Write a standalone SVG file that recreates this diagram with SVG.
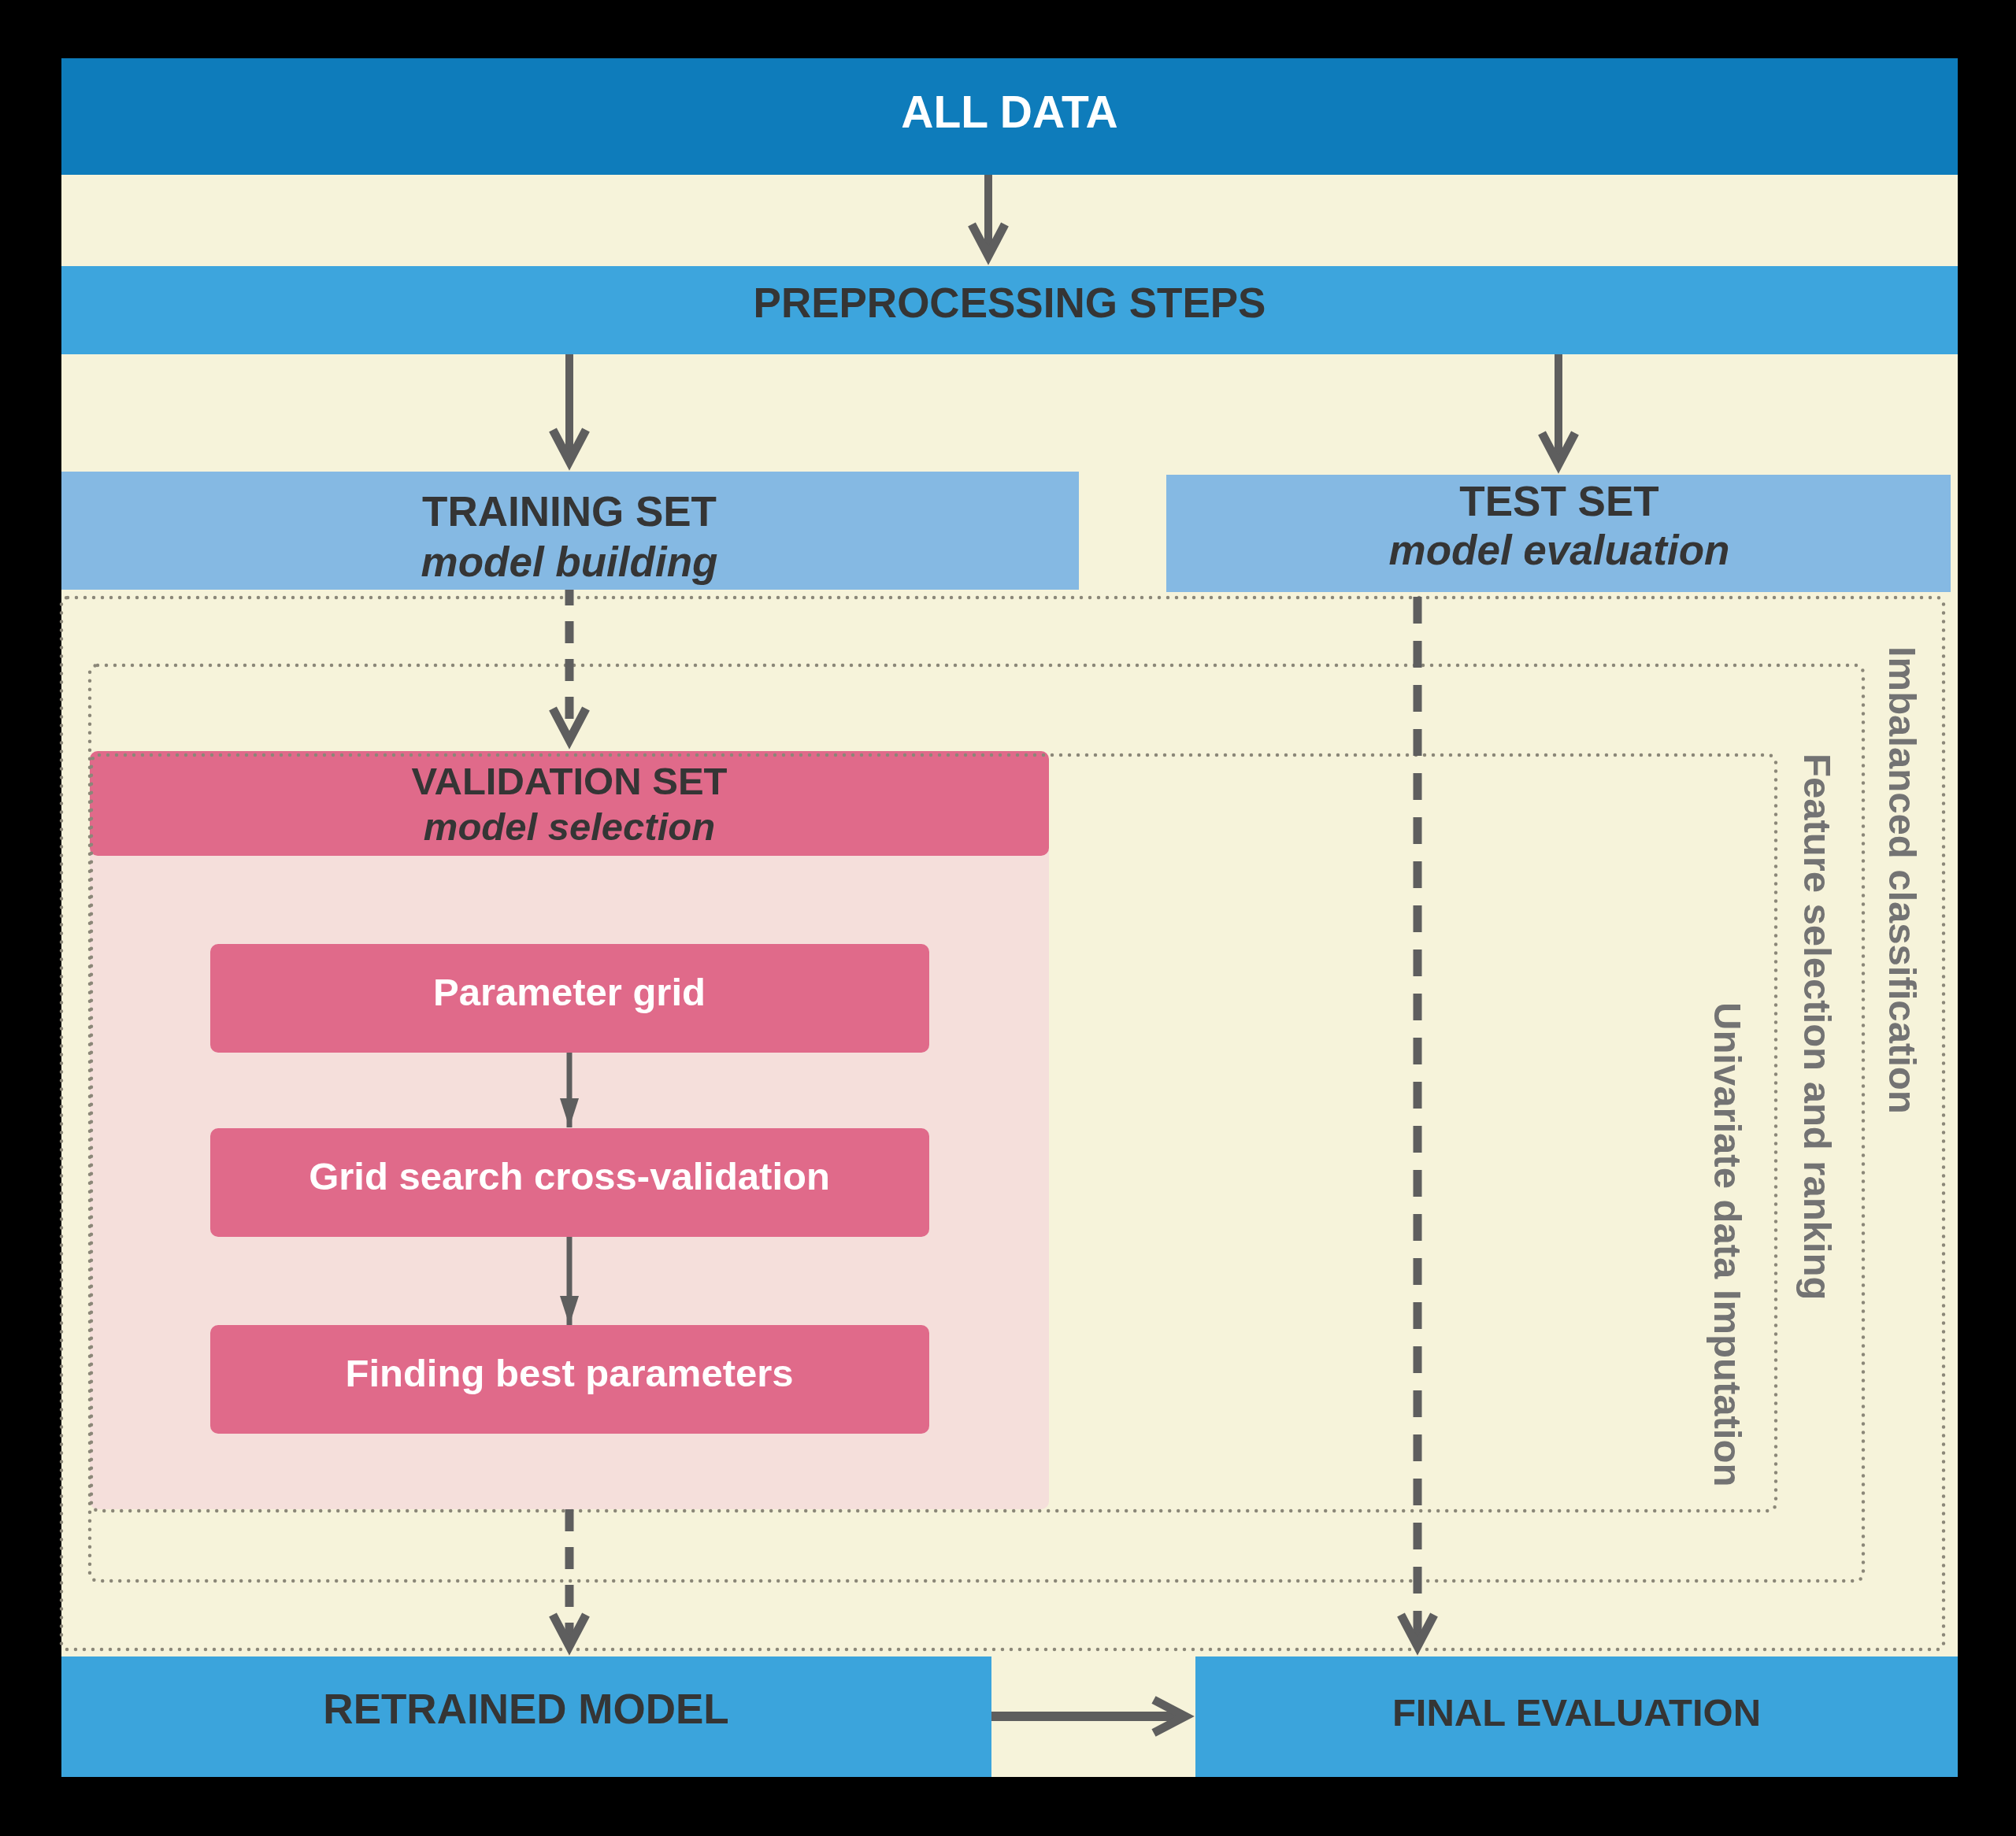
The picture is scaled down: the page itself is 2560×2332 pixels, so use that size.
<svg xmlns="http://www.w3.org/2000/svg" width="2560" height="2332" viewBox="0 0 2560 2332">
<style>
.t{font-family:"Liberation Sans",Arial,sans-serif;font-weight:bold;text-anchor:middle}
.dark{fill:#353535}
.white{fill:#ffffff}
.it{font-style:italic}
.side{font-family:"Liberation Sans",Arial,sans-serif;font-weight:bold;font-size:49px;fill:#737373}
.dot{fill:none;stroke:#8b8778;stroke-width:4.5;stroke-linecap:round;stroke-dasharray:0 11}
.conn{fill:none;stroke:#5e5e5e;stroke-width:10;marker-end:url(#chev)}
.dash{stroke-width:11;stroke-dasharray:28 20}
.small{fill:none;stroke:#5e5e5e;stroke-width:7;marker-end:url(#tri)}
</style>
<defs>
<marker id="chev" markerUnits="userSpaceOnUse" markerWidth="80" markerHeight="80" viewBox="-60 -40 80 80" refX="0" refY="0" orient="auto" overflow="visible">
<path d="M -40 -21 L 0 0 L -40 21" fill="none" stroke="#5e5e5e" stroke-width="11" stroke-miterlimit="10" stroke-dasharray="none"/>
</marker>
<marker id="tri" markerUnits="userSpaceOnUse" markerWidth="60" markerHeight="60" viewBox="-50 -30 60 60" refX="0" refY="0" orient="auto" overflow="visible">
<path d="M -37 -12 L 0 0 L -37 12 Z" fill="#5e5e5e"/>
</marker>
</defs>
<rect x="0" y="0" width="2560" height="2332" fill="#000000"/>
<rect x="78" y="74" width="2408" height="2183" fill="#f6f3da"/>

<g id="all-data">
<rect x="78" y="74" width="2408" height="148" fill="#0e7cbb"/>
<text class="t white" x="1282" y="162" font-size="57">ALL DATA</text>
</g>
<g id="preprocessing">
<rect x="78" y="338" width="2408" height="112" fill="#3da5dd"/>
<text class="t dark" x="1282" y="403" font-size="53">PREPROCESSING STEPS</text>
</g>
<g id="training-set">
<rect x="78" y="599" width="1292" height="150" fill="#85b9e3"/>
<text class="t dark" x="723" y="668" font-size="53">TRAINING SET</text>
<text class="t dark it" x="723" y="732" font-size="53">model building</text>
</g>
<g id="test-set">
<rect x="1481" y="603" width="996" height="149" fill="#85b9e3"/>
<text class="t dark" x="1980" y="655" font-size="53">TEST SET</text>
<text class="t dark it" x="1980" y="717" font-size="53">model evaluation</text>
</g>
<g id="validation-set">
<rect x="114" y="954" width="1218" height="963" rx="10" fill="#f5dfdb"/>
<rect x="114" y="954" width="1218" height="133" rx="10" fill="#e06a8a"/>
<text class="t dark" x="723" y="1009" font-size="49">VALIDATION SET</text>
<text class="t dark it" x="723" y="1067" font-size="49">model selection</text>
</g>
<g id="parameter-grid">
<rect x="267" y="1199" width="913" height="138" rx="10" fill="#e06a8a"/>
<text class="t white" x="723" y="1277" font-size="49">Parameter grid</text>
</g>
<g id="grid-search">
<rect x="267" y="1433" width="913" height="138" rx="10" fill="#e06a8a"/>
<text class="t white" x="723" y="1511" font-size="49">Grid search cross-validation</text>
</g>
<g id="best-parameters">
<rect x="267" y="1683" width="913" height="138" rx="10" fill="#e06a8a"/>
<text class="t white" x="723" y="1761" font-size="49">Finding best parameters</text>
</g>
<g id="imbalanced-classification">
<rect class="dot" x="78" y="759" width="2390" height="1336" rx="8"/>
<text class="side" transform="translate(2399,821) rotate(90)">Imbalanced classification</text>
</g>
<g id="feature-selection">
<rect class="dot" x="114" y="845" width="2252" height="1163" rx="10"/>
<text class="side" transform="translate(2291,957) rotate(90)">Feature selection and ranking</text>
</g>
<g id="univariate-imputation">
<rect class="dot" x="116" y="959" width="2139" height="960" rx="10"/>
<text class="side" transform="translate(2177,1273) rotate(90)">Univariate data Imputation</text>
</g>
<g id="retrained-model">
<rect x="78" y="2104" width="1181" height="153" fill="#3ba4dc"/>
<text class="t dark" x="668" y="2189" font-size="53">RETRAINED MODEL</text>
</g>
<g id="final-evaluation">
<rect x="1518" y="2104" width="968" height="153" fill="#3ba4dc"/>
<text class="t dark" x="2002" y="2192" font-size="49">FINAL EVALUATION</text>
</g>

<g id="connectors">
<line class="conn" x1="1255" y1="222" x2="1255" y2="325"/>
<line class="conn" x1="723" y1="450" x2="723" y2="586"/>
<line class="conn" x1="1979" y1="450" x2="1979" y2="590"/>
<line class="conn dash" x1="723" y1="749" x2="723" y2="940" stroke-dashoffset="8"/>
<line class="conn dash" x1="1800" y1="758" x2="1800" y2="2091" style="stroke-dasharray:34 22"/>
<line class="conn dash" x1="723" y1="1917" x2="723" y2="2091"/>
<line class="conn" x1="1259" y1="2180" x2="1505" y2="2180" style="stroke-width:12"/>
<line class="small" x1="723" y1="1337" x2="723" y2="1432"/>
<line class="small" x1="723" y1="1571" x2="723" y2="1683"/>
</g>
</svg>
